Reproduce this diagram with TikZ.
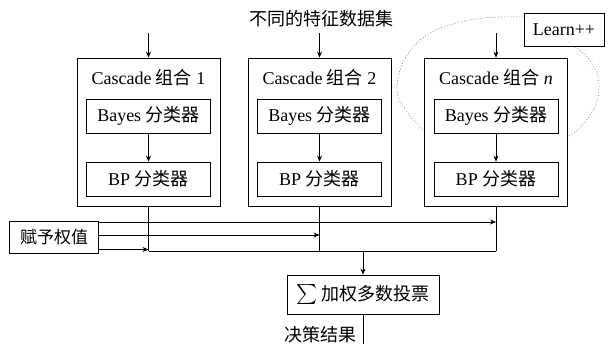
\documentclass[tikz,border=0pt]{standalone}
\usepackage{fontspec}
\usepackage{graphicx}
\setmainfont{Liberation Serif}
\newfontfamily\cjk{Noto Sans CJK SC}
\newcommand{\zh}[1]{{\cjk #1}}
\usetikzlibrary{arrows.meta}
\begin{document}
\begin{tikzpicture}[x=1pt,y=-1pt,
  font=\fontsize{18}{20}\selectfont,
  outerbox/.style={draw, line width=0.8pt, fill=white, minimum width=143pt, minimum height=148pt, inner sep=0pt},
  innerbox/.style={draw, line width=0.8pt, fill=white, minimum width=124pt, minimum height=34pt, inner sep=0pt},
  plainbox/.style={draw, line width=0.8pt, fill=white, inner sep=0pt},
  arr/.style={-{Stealth[length=6pt,width=5pt]}, line width=0.7pt},
  ln/.style={line width=0.7pt},
  lbl/.style={inner sep=0pt}]
\useasboundingbox (0,0) rectangle (614,344);

% dotted Learn++ loop (partly hidden by the boxes)
\draw[gray, line width=0.5pt, dash pattern=on 1.2pt off 1.8pt]
  plot[smooth cycle, tension=0.7] coordinates {(523,17) (465,21) (418,42) (397,85) (412,118) (440,138) (497,150) (560,140) (590,115) (599,85) (588,58) (565,40) (545,22)};

% outer cascade boxes
\node[outerbox] (c1) at (148.5,132) {};
\node[outerbox] (c2) at (319.5,132) {};
\node[outerbox] (c3) at (496,132) {};

\node[lbl] (t1) at (148.5,78) {Cascade \zh{组合} 1};
\node[lbl] (t2) at (319.5,78) {Cascade \zh{组合} 2};
\node[lbl] (t3) at (496,78) {Cascade \zh{组合} \textit{n}};

% inner classifier boxes
\node[innerbox] (b1) at (148.5,116) {Bayes \zh{分类器}};
\node[innerbox] (b2) at (319.5,116) {Bayes \zh{分类器}};
\node[innerbox] (b3) at (496,116) {Bayes \zh{分类器}};
\node[innerbox] (p1) at (148.5,179) {BP \zh{分类器}};
\node[innerbox] (p2) at (319.5,179) {BP \zh{分类器}};
\node[innerbox] (p3) at (496,179) {BP \zh{分类器}};

\draw[arr] (b1) -- (p1);
\draw[arr] (b2) -- (p2);
\draw[arr] (b3) -- (p3);

% Learn++ label
\node[plainbox, minimum width=80pt, minimum height=33pt] (learn) at (564,29.5) {Learn++};

% input
\node[lbl, font=\fontsize{18}{20}\selectfont\cjk] (data) at (321,19) {不同的特征数据集};
\coordinate (i1) at (148.5,33);
\coordinate (i2) at (319.5,33);
\coordinate (i3) at (496,33);
\draw[arr] (i1) -- (c1.north);
\draw[arr] (i2) -- (c2.north);
\draw[arr] (i3) -- (c3.north);

% bus
\coordinate (bus1) at (148.5,251);
\coordinate (bus2) at (319.5,251);
\coordinate (bus3) at (496,251);
\coordinate (busm) at (363,251);
\draw[ln] (c1.south) -- (bus1);
\draw[ln] (c2.south) -- (bus2);
\draw[ln] (c3.south) -- (bus3);
\draw[ln] (bus1) -- (bus3);

% weights
\node[plainbox, minimum width=89pt, minimum height=32pt, font=\fontsize{17}{20}\selectfont\cjk] (w) at (54,237) {赋予权值};
\coordinate (wa) at (98.5,222);
\coordinate (wb) at (98.5,235);
\coordinate (wc) at (98.5,249.5);
\coordinate (ea) at (496,222);
\coordinate (eb) at (319.5,235);
\coordinate (ec) at (148.5,249.5);
\draw[arr] (wa) -- (ea);
\draw[arr] (wb) -- (eb);
\draw[arr] (wc) -- (ec);

% weighted vote
\node[plainbox, minimum width=152pt, minimum height=39pt] (vote) at (363,294.5)
  {\raisebox{-3pt}{\scalebox{2}{$\sum$}}\,{\fontsize{18}{20}\selectfont\cjk 加权多数投票}};
\draw[arr] (busm) -- (vote.north);

\coordinate (out) at (363,344);
\draw[ln] (vote.south) -- (out);
\node[lbl, anchor=east, font=\fontsize{18}{20}\selectfont\cjk] (res) at (357,335) {决策结果};
\end{tikzpicture}
\end{document}
